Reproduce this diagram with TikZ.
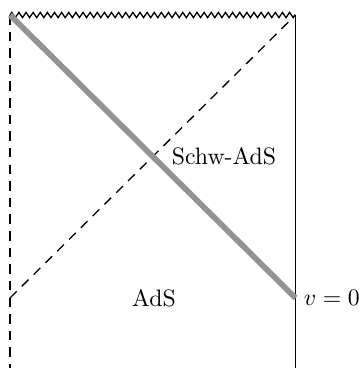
\documentclass[tikz,border=0pt]{standalone}
\usepackage{amsmath}
\usetikzlibrary{decorations.pathmorphing}
\tikzset{
  edge/.style={line width=0.55pt},
  bdry/.style={line width=0.55pt, dash pattern=on 4pt off 3pt},
  shell/.style={line width=2.4pt, gray!85},
  horizon/.style={line width=0.55pt, dash pattern=on 4pt off 3pt},
  sing/.style={line width=0.55pt, decorate, decoration={zigzag, segment length=3pt, amplitude=1.1pt}},
}
\begin{document}
\begin{tikzpicture}[x=0.0148cm, y=-0.0148cm]
  \useasboundingbox (0,0) rectangle (359,368);
  % corners
  \coordinate (tl) at (10,15);
  \coordinate (tr) at (295.5,15);
  \coordinate (bl) at (10,368);
  \coordinate (br) at (295.5,368);
  \coordinate (ml) at (10,298);
  \coordinate (mr) at (295.5,298);

  % boundaries
  \draw[bdry] (tl) -- (bl);
  \draw[edge] (tr) -- (br);
  \draw[sing] (tl) -- (tr);

  % horizon and shell
  \draw[horizon] (ml) -- (tr);
  \draw[shell] (tl) -- (mr);

  % labels
  \node (schw) at (224,156) {Schw-AdS};
  \node (ads) at (154,298) {AdS};
  \node[anchor=west] (v0) at (mr) {$v=0$};
\end{tikzpicture}
\end{document}
